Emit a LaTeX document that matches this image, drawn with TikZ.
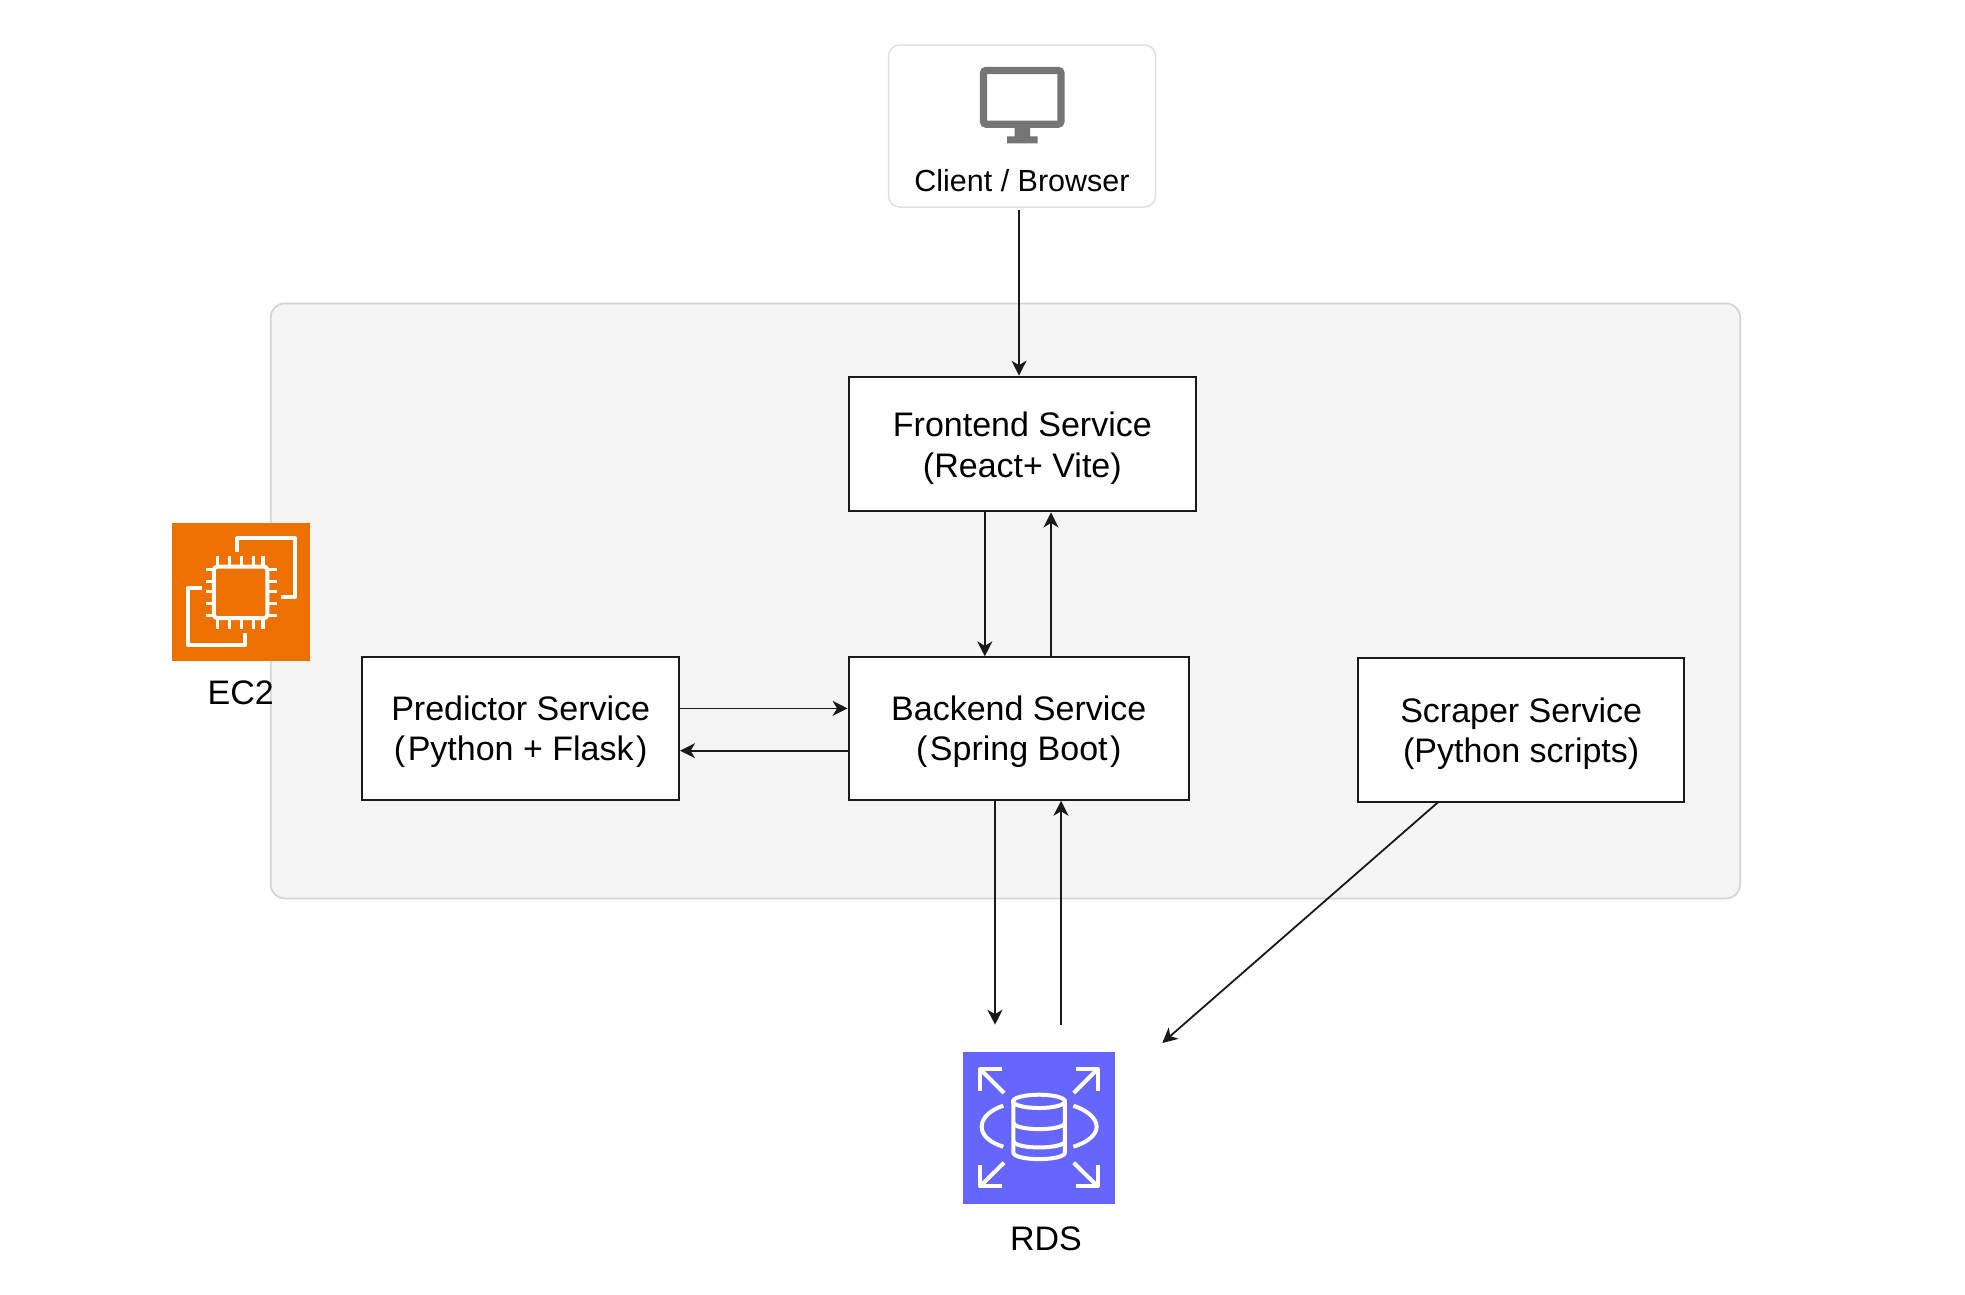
\documentclass[tikz,border=0pt]{standalone}
\usepackage{fontspec}
\setmainfont{Liberation Sans}
\usetikzlibrary{arrows.meta}
\definecolor{edgegray}{HTML}{D4D4D4}
\definecolor{clientedge}{HTML}{E0E0E0}
\definecolor{panelfill}{HTML}{F5F5F5}
\definecolor{monitorgray}{HTML}{757575}
\definecolor{ecorange}{HTML}{ED7100}
\definecolor{rdsblue}{HTML}{6666FF}
\definecolor{linegray}{HTML}{1A1A1A}
\tikzset{
  x=1pt,y=-1pt,
  svcbox/.style={draw=linegray,line width=2.1pt,fill=white,inner sep=0pt,align=center,
    font=\fontsize{34}{40.7}\selectfont},
  txt/.style={inner sep=0pt,anchor=base,font=\fontsize{#1}{#1}\selectfont},
  flow/.style={draw=black!90,line width=1.8pt,-{Stealth[length=15pt,width=15pt,inset=4.5pt]}},
  glyph/.style={draw=white,line width=4pt,line join=round},
  pin/.style={draw=white,line width=3.5pt},
  iconbox/.style={inner sep=0pt,outer sep=0pt,draw=none},
}
\newcommand{\dropline}[1]{\rule{0pt}{#1pt}}
\newcommand{\lp}{(\kern2.5pt}
\newcommand{\rp}{\kern2.5pt)}
\begin{document}
\begin{tikzpicture}
\useasboundingbox (0,-0.7) rectangle (1965,1293.3);
\fill[white] (0,-0.7) rectangle (1965,1293.3);

% panel
\node[name=panel,draw=edgegray,fill=panelfill,line width=1.7pt,rounded corners=14pt,inner sep=0pt,
  minimum width=1469.5pt,minimum height=595pt] at (1005.4,600.2) {};

% client
\node[name=client,draw=clientedge,fill=white,line width=1.5pt,rounded corners=11pt,inner sep=0pt,
  minimum width=267pt,minimum height=162pt] at (1022.1,125.3) {};
\draw[monitorgray,line width=7.3pt,rounded corners=3pt] (983.4,69.7) rectangle (1061,123.5);
\fill[monitorgray] (1014.7,125) rectangle (1030,136) (1007,135.7) rectangle (1037.7,142.7);
\node[txt=30.5,name=clientlabel] at (1022,190.7) {Client / Browser};

% services
\node[svcbox,name=front,minimum width=347.3pt,minimum height=134.7pt] at (1022.35,443.35) {\dropline{33}Frontend Service\\(React+ Vite)};
\node[svcbox,name=back,minimum width=340.4pt,minimum height=142.3pt] at (1018.8,727.85) {\dropline{31}Backend Service\\\lp Spring Boot\rp};
\node[svcbox,name=pred,minimum width=316.6pt,minimum height=142.3pt] at (520.7,727.85) {\dropline{31}Predictor Service\\\lp Python + Flask\rp};
\node[svcbox,name=scrap,minimum width=325.7pt,minimum height=144.3pt] at (1521.2,729.2) {\dropline{32}Scraper Service\\(Python scripts)};

% EC2 icon
\node[iconbox,fill=ecorange,name=ec2,minimum width=138pt,minimum height=138.3pt] at (241.3,591.2) {};
\begin{scope}[shift={(150,500)},x=0.3333pt,y=-0.3333pt]
  \draw[glyph] (262,155) -- (262,113) -- (435,113) -- (435,288) -- (393,288);
  \draw[glyph] (155,262) -- (113,262) -- (113,433) -- (286,433) -- (286,398);
  \draw[glyph,rounded corners=3pt] (192,198) rectangle (352,352);
  \foreach \p in {203,238,274,310,339}{
    \draw[pin] (\p,167) -- (\p,196);
    \draw[pin] (\p,354) -- (\p,386);
  }
  \foreach \p in {207,243,273,309,345}{
    \draw[pin] (167,\p) -- (192,\p);
    \draw[pin] (352,\p) -- (381,\p);
  }
\end{scope}
\node[txt=34,name=ec2label] at (240.7,703.7) {EC2};

% RDS icon
\node[iconbox,fill=rdsblue,name=rds,minimum width=152pt,minimum height=152pt] at (1039,1127) {};
\begin{scope}[shift={(940,1030)},x=0.3333pt,y=-0.3333pt]
  \draw[glyph] (187,115) -- (120,115) -- (120,180);
  \draw[glyph] (120,115) -- (192,187);
  \draw[glyph] (408,115) -- (473,115) -- (473,180);
  \draw[glyph] (473,115) -- (401,187);
  \draw[glyph] (187,467) -- (120,467) -- (120,402);
  \draw[glyph] (120,467) -- (192,396);
  \draw[glyph] (408,467) -- (473,467) -- (473,402);
  \draw[glyph] (473,467) -- (401,396);
  \draw[glyph] (190,225) .. controls (150,238) and (125,262) .. (125,288) .. controls (125,314) and (150,336) .. (190,348);
  \draw[glyph] (400,225) .. controls (440,238) and (470,262) .. (470,288) .. controls (470,314) and (440,336) .. (400,348);
  \draw[glyph] (297,212) ellipse [x radius=78,y radius=20];
  \draw[glyph] (220,212) -- (220,365) .. controls (220,392) and (375,392) .. (375,365) -- (375,212);
  \draw[glyph] (220,275) .. controls (220,302) and (375,302) .. (375,275);
  \draw[glyph] (220,330) .. controls (220,357) and (375,357) .. (375,330);
\end{scope}
\node[txt=34,name=rdslabel] at (1046,1250) {RDS};

% connector free ends / x positions
\coordinate (xclient) at (1019,0);
\coordinate (xfb) at (984.8,0);
\coordinate (xbf) at (1051,0);
\coordinate (xbr) at (995,1024);
\coordinate (xrb) at (1061,1024);
\coordinate (ypb) at (0,707.7);
\coordinate (ybp) at (0,750);
\coordinate (scrapout) at (1438.3,801.3);
\coordinate (rdsin) at (1162.3,1042.3);

\draw[flow,shorten <=2pt] (client.south -| xclient) -- (front.north -| xclient);
\draw[flow] (front.south -| xfb) -- (back.north -| xfb);
\draw[flow] (back.north -| xbf) -- (front.south -| xbf);
\draw[flow] (pred.east |- ypb) -- (back.west |- ypb);
\draw[flow] (back.west |- ybp) -- (pred.east |- ybp);
\draw[flow] (back.south -| xbr) -- (xbr);
\draw[flow] (xrb) -- (back.south -| xrb);
\draw[flow] (scrapout) -- (rdsin);
\end{tikzpicture}
\end{document}
